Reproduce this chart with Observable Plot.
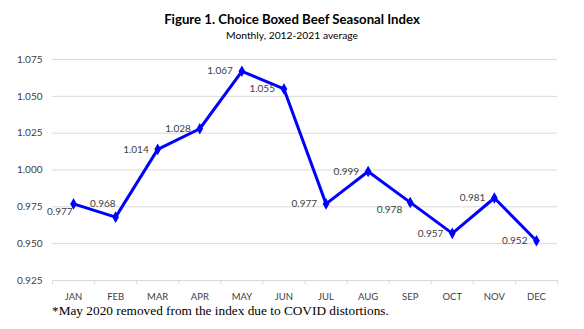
<!DOCTYPE html>
<html>
<head>
<meta charset="utf-8">
<script src="https://cdn.jsdelivr.net/npm/d3@7"></script>
<script src="https://cdn.jsdelivr.net/npm/@observablehq/plot@0.6"></script>
<style>
  html, body { margin: 0; padding: 0; background: #fff; }
  #wrap { position: relative; width: 584px; height: 329px; overflow: hidden; }
  #title { position: absolute; top: 11px; left: 0; width: 584px; text-align: center;
           font-family: Lato, sans-serif; font-weight: bold; font-size: 13.2px; color: #000; }
  #subtitle { position: absolute; top: 29px; left: 0; width: 584px; text-align: center;
           font-family: Lato, sans-serif; font-size: 10.3px; color: #000; }
  #chart { position: absolute; top: 0; left: 0; }
  #caption { position: absolute; top: 303px; left: 52px; font-family: "Liberation Serif", "Times New Roman", serif;
             font-size: 13.3px; color: #000; white-space: nowrap; }
</style>
</head>
<body>
<div id="wrap">
  <div id="chart"></div>
  <div id="title">Figure 1. Choice Boxed Beef Seasonal Index</div>
  <div id="subtitle">Monthly, 2012-2021 average</div>
  <div id="caption">*May 2020 removed from the index due to COVID distortions.</div>
</div>
<script>
const months = ["JAN","FEB","MAR","APR","MAY","JUN","JUL","AUG","SEP","OCT","NOV","DEC"];
const indexValues = [0.977, 0.968, 1.014, 1.028, 1.067, 1.055, 0.977, 0.999, 0.978, 0.957, 0.981, 0.952];
const yTicks = [0.925, 0.950, 0.975, 1.000, 1.025, 1.050, 1.075];
// label placement relative to each point (style only)
const labelPlacement = ["below","above","left","left","left","left","left","left","belowLeft","left","left","left"];

const data = months.map((m, i) => ({i, month: m, value: indexValues[i], place: labelPlacement[i]}));
const boundaries = d3.range(months.length + 1).map(k => k - 0.5);

const offsets = {
  left: {dx: -9, dy: 0},
  below: {dx: -1, dy: 8},
  above: {dx: 0, dy: -13},
  belowLeft: {dx: -8, dy: 7}
};

const labelMarks = Object.entries(offsets).map(([place, o]) =>
  Plot.text(data.filter(d => d.place === place), {
    x: "i", y: "value", text: d => d.value.toFixed(3),
    textAnchor: "end", dx: o.dx, dy: o.dy,
    fill: "#404040", fontSize: 10
  })
);

const chart = Plot.plot({
  width: 584,
  height: 305,
  marginTop: 59,
  marginBottom: 25,
  marginLeft: 52,
  marginRight: 27,
  style: {fontFamily: "Lato, sans-serif", background: "transparent"},
  x: {domain: [-0.5, months.length - 0.5], label: null},
  y: {domain: [0.925, 1.075], label: null},
  marks: [
    Plot.ruleY(yTicks, {stroke: "#d9d9d9", strokeWidth: 1}),
    Plot.axisX({ticks: boundaries, tickSize: 4, stroke: "#d9d9d9", tickFormat: () => "", label: null}),
    Plot.axisX({ticks: d3.range(months.length), tickSize: 0, tickPadding: 13,
                tickFormat: i => months[i], fill: "#404040", fontSize: 9.5, label: null}),
    Plot.axisY({ticks: yTicks, tickSize: 0, tickPadding: 10, tickFormat: d3.format(".3f"),
                fill: "#404040", fontSize: 10, label: null}),
    Plot.lineY(data, {x: "i", y: "value", stroke: "#0000ff", strokeWidth: 3}),
    Plot.dot(data, {x: "i", y: "value", symbol: "diamond", r: 3.5, fill: "#0000ff"}),
    ...labelMarks
  ]
});
document.getElementById("chart").appendChild(chart);
</script>
</body>
</html>
